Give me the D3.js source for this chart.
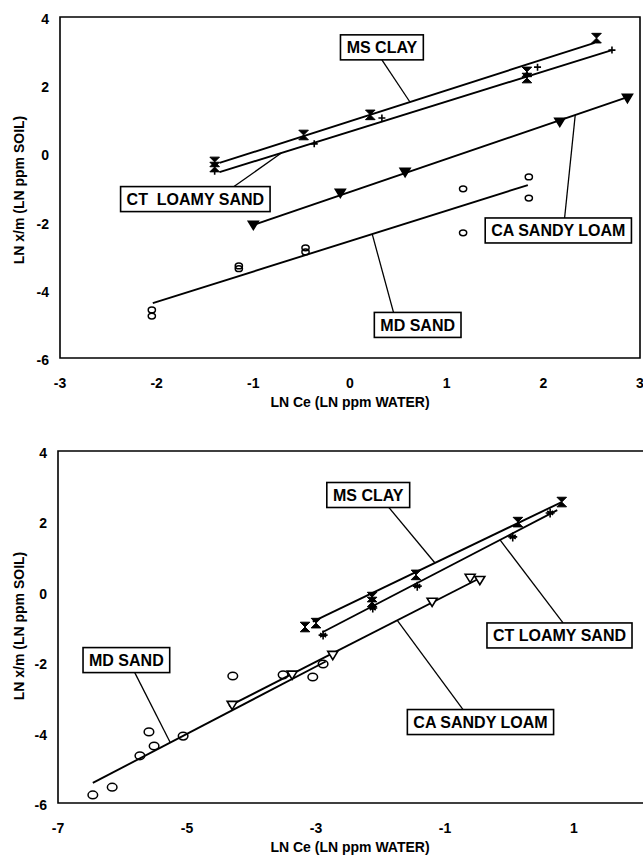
<!DOCTYPE html>
<html>
<head>
<meta charset="utf-8">
<script src="https://cdn.jsdelivr.net/npm/d3@7"></script>
<style>
  body { margin: 0; background: #fff; }
  svg { display: block; font-family: "Liberation Sans", Arial, sans-serif; }
</style>
</head>
<body>
<div id="chart"></div>
<script>
// ---- data ----
const topXTicks = [-3, -2, -1, 0, 1, 2, 3];
const topYTicks = [4, 2, 0, -2, -4, -6];
const botXTicks = [-7, -5, -3, -1, 1];
const botYTicks = [4, 2, 0, -2, -4, -6];

// upper panel
const topMsClayX = [-1.40, -1.40, -0.48, 0.21, 1.83, 1.83, 2.55];
const topMsClayY = [-0.25, -0.40, 0.54, 1.13, 2.39, 2.21, 3.38];
const topCtSandX = [-1.40, -0.37, 0.33, 1.94, 2.71];
const topCtSandY = [-0.52, 0.28, 1.04, 2.53, 3.03];
const topCaLoamX = [-1.00, -0.10, 0.57, 2.17, 2.87];
const topCaLoamY = [-2.10, -1.16, -0.55, 0.92, 1.62];
const topMdSandX = [-2.05, -2.05, -1.15, -1.15, -0.46, -0.46, 1.17, 1.17, 1.85, 1.85];
const topMdSandY = [-4.59, -4.77, -3.30, -3.38, -2.77, -2.89, -1.04, -2.33, -1.31, -0.69];
// fitted lines: [x0, y0, x1, y1]
const topMsClayFit = [-1.35, -0.28, 2.53, 3.24];
const topCtSandFit = [-1.35, -0.55, 2.71, 3.03];
const topCaLoamFit = [-1.00, -2.10, 2.87, 1.65];
const topMdSandFit = [-2.04, -4.39, 1.84, -0.93];

// lower panel
const botMsClayX = [-3.17, -3.00, -2.13, -2.13, -1.45, 0.13, 0.81];
const botMsClayY = [-1.00, -0.89, -0.15, -0.29, 0.48, 1.98, 2.55];
const botCtSandX = [-2.89, -2.12, -1.43, 0.05, 0.63];
const botCtSandY = [-1.23, -0.46, 0.16, 1.56, 2.24];
const botCaLoamX = [-4.30, -3.37, -2.74, -1.20, -0.61, -0.46];
const botCaLoamY = [-3.22, -2.36, -1.80, -0.29, 0.39, 0.33];
const botMdSandX = [-6.46, -6.16, -5.73, -5.51, -5.59, -5.06, -4.29, -3.51, -3.05, -2.89];
const botMdSandY = [-5.77, -5.55, -4.66, -4.38, -3.98, -4.10, -2.39, -2.36, -2.42, -2.05];
const botMsClayFit = [-3.05, -0.85, 0.81, 2.55];
const botCtSandFit = [-2.90, -1.15, 0.74, 2.32];
const botCaLoamFit = [-4.35, -3.25, -0.50, 0.35];
const botMdSandFit = [-6.46, -5.43, -2.85, -1.98];

// labels: text, box centre (x, y), leader start x on box, leader end x on fit line
const topLabels = [
  { text: 'MS CLAY', cx: 0.33, cy: 3.11, fromX: 0.33, toX: 0.62, fit: topMsClayFit, side: 'bottom' },
  { text: 'CT\u00a0 LOAMY SAND', cx: -1.60, cy: -1.34, fromX: -1.20, toX: -0.71, fit: topCtSandFit, side: 'top' },
  { text: 'CA SANDY LOAM', cx: 2.155, cy: -2.26, fromX: 2.22, toX: 2.33, fit: topCaLoamFit, side: 'top' },
  { text: 'MD SAND', cx: 0.70, cy: -5.03, fromX: 0.45, toX: 0.23, fit: topMdSandFit, side: 'top' }
];
const botLabels = [
  { text: 'MS CLAY', cx: -2.19, cy: 2.75, fromX: -1.87, toX: -1.155, fit: botMsClayFit, side: 'bottom' },
  { text: 'CT LOAMY SAND', cx: 0.775, cy: -1.24, fromX: 0.83, toX: -0.147, fit: botCtSandFit, side: 'top' },
  { text: 'CA SANDY LOAM', cx: -0.45, cy: -3.70, fromX: -0.72, toX: -1.74, fit: botCaLoamFit, side: 'top' },
  { text: 'MD SAND', cx: -5.94, cy: -1.94, fromX: -5.81, toX: -5.26, fit: botMdSandFit, side: 'bottom' }
];

const W = 643, H = 856;
const svg = d3.select('#chart').append('svg').attr('width', W).attr('height', H);

function marker(g, type, px, py, big) {
  if (type === 'hourglass') {
    const s = 4.8;
    g.append('path')
      .attr('d', `M${px - s},${py - s}L${px + s},${py - s}L${px - s},${py + s}L${px + s},${py + s}Z`)
      .attr('fill', '#000').attr('stroke', '#000').attr('stroke-width', 1);
  } else if (type === 'plus') {
    const s = big ? 4.5 : 3.5;
    g.append('path')
      .attr('d', `M${px - s},${py}L${px + s},${py}M${px},${py - s}L${px},${py + s}` +
        (big ? `M${px - 3},${py - 2}L${px + 3},${py + 2}M${px - 3},${py + 2}L${px + 3},${py - 2}` : ''))
      .attr('stroke', '#000').attr('stroke-width', 1.6).attr('fill', 'none');
  } else if (type === 'triFilled' || type === 'triOpen') {
    const s = 5;
    g.append('path')
      .attr('d', `M${px - s},${py - s * 0.75}L${px + s},${py - s * 0.75}L${px},${py + s * 0.9}Z`)
      .attr('fill', type === 'triFilled' ? '#000' : '#fff')
      .attr('stroke', '#000').attr('stroke-width', 1.6);
  } else if (type === 'circle') {
    g.append('ellipse')
      .attr('cx', px).attr('cy', py)
      .attr('rx', big ? 4.8 : 3.6).attr('ry', big ? 3.8 : 2.9)
      .attr('fill', 'none').attr('stroke', '#000').attr('stroke-width', 1.5);
  }
}

function drawPanel(cfg) {
  const { x, y, xTicks, yTicks, series, labels, frameRight, big, xTitleY, yTitleCy, tickLabelY } = cfg;
  const g = svg.append('g');

  // frame
  const [x0] = x.range();
  const [yb, yt] = y.range();
  g.append('path')
    .attr('d', frameRight
      ? `M${x0},${yt}H${x.range()[1]}V${yb}H${x0}Z`
      : `M${W + 5},${yt}H${x0}V${yb}H${W + 5}`)
    .attr('fill', 'none').attr('stroke', '#000').attr('stroke-width', 1.6);

  // tick labels
  g.selectAll('.xt').data(xTicks).enter().append('text')
    .attr('x', d => x(d)).attr('y', tickLabelY)
    .attr('text-anchor', 'middle').attr('font-size', 14).attr('font-weight', 'bold')
    .text(d => d);
  g.selectAll('.yt').data(yTicks).enter().append('text')
    .attr('x', x0 - 11).attr('y', d => y(d) + 7)
    .attr('text-anchor', 'end').attr('font-size', 14).attr('font-weight', 'bold')
    .text(d => d);

  // axis titles
  g.append('text')
    .attr('x', 350).attr('y', xTitleY)
    .attr('text-anchor', 'middle').attr('font-size', 14).attr('font-weight', 'bold')
    .text('LN Ce (LN ppm WATER)');
  g.append('text')
    .attr('transform', `translate(24,${yTitleCy}) rotate(-90)`)
    .attr('text-anchor', 'middle').attr('font-size', 14).attr('font-weight', 'bold')
    .text('LN x/m (LN ppm SOIL)');

  // fitted lines
  series.forEach(s => {
    g.append('line')
      .attr('x1', x(s.fit[0])).attr('y1', y(s.fit[1]))
      .attr('x2', x(s.fit[2])).attr('y2', y(s.fit[3]))
      .attr('stroke', '#000').attr('stroke-width', 1.9);
  });

  // points
  series.forEach(s => {
    s.xs.forEach((v, i) => marker(g, s.type, x(v), y(s.ys[i]), big));
  });

  // labels with leader lines
  labels.forEach(l => {
    const lg = g.append('g');
    const t = lg.append('text')
      .attr('x', x(l.cx)).attr('y', y(l.cy) + 6)
      .attr('text-anchor', 'middle').attr('font-size', 16).attr('font-weight', 'bold')
      .text(l.text);
    const bb = t.node().getBBox();
    const bw = bb.width + 12, bh = 25;
    const bx = x(l.cx) - bw / 2, by = y(l.cy) - bh / 2;
    lg.insert('rect', 'text')
      .attr('x', bx).attr('y', by).attr('width', bw).attr('height', bh)
      .attr('fill', '#fff').attr('stroke', '#000').attr('stroke-width', 1.6);
    const f = l.fit;
    const lineY = f[1] + (f[3] - f[1]) * (l.toX - f[0]) / (f[2] - f[0]);
    g.append('line')
      .attr('x1', x(l.fromX)).attr('y1', l.side === 'top' ? by : by + bh)
      .attr('x2', x(l.toX)).attr('y2', y(lineY))
      .attr('stroke', '#000').attr('stroke-width', 1.3);
  });
}

drawPanel({
  x: d3.scaleLinear().domain([-3, 3]).range([60, 640]),
  y: d3.scaleLinear().domain([-6, 4]).range([358, 17]),
  xTicks: topXTicks, yTicks: topYTicks, frameRight: true, big: false,
  tickLabelY: 388, xTitleY: 407, yTitleCy: 190,
  series: [
    { xs: topMsClayX, ys: topMsClayY, fit: topMsClayFit, type: 'hourglass' },
    { xs: topCtSandX, ys: topCtSandY, fit: topCtSandFit, type: 'plus' },
    { xs: topCaLoamX, ys: topCaLoamY, fit: topCaLoamFit, type: 'triFilled' },
    { xs: topMdSandX, ys: topMdSandY, fit: topMdSandFit, type: 'circle' }
  ],
  labels: topLabels
});

drawPanel({
  x: d3.scaleLinear().domain([-7, 2]).range([58, 638.5]),
  y: d3.scaleLinear().domain([-6, 4]).range([803, 451]),
  xTicks: botXTicks, yTicks: botYTicks, frameRight: false, big: true,
  tickLabelY: 833, xTitleY: 852, yTitleCy: 626,
  series: [
    { xs: botMsClayX, ys: botMsClayY, fit: botMsClayFit, type: 'hourglass' },
    { xs: botCtSandX, ys: botCtSandY, fit: botCtSandFit, type: 'plus' },
    { xs: botCaLoamX, ys: botCaLoamY, fit: botCaLoamFit, type: 'triOpen' },
    { xs: botMdSandX, ys: botMdSandY, fit: botMdSandFit, type: 'circle' }
  ],
  labels: botLabels
});
</script>
</body>
</html>
